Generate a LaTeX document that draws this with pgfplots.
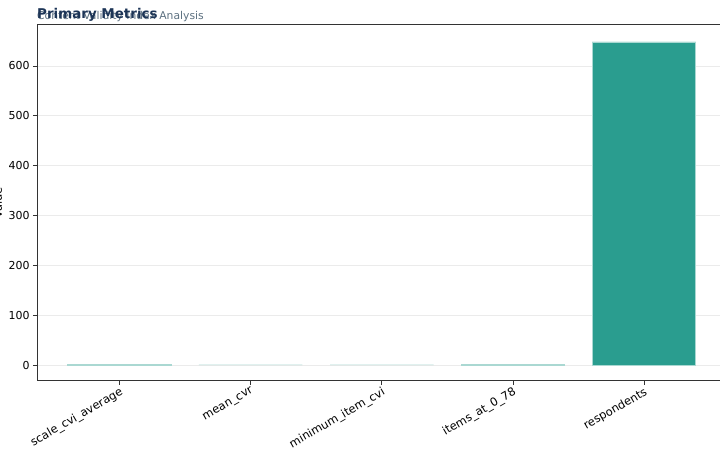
\documentclass[border=0pt]{standalone}
\usepackage{pgfplots}
\pgfplotsset{compat=1.18}
\usepackage{fontspec}
\setmainfont{DejaVu Sans}
\definecolor{barteal}{HTML}{2A9D8F}
\definecolor{titlenavy}{HTML}{1D3557}
\definecolor{subgray}{HTML}{5C7080}
\definecolor{spine}{HTML}{333333}
\begin{document}
\begin{tikzpicture}[x=1bp,y=1bp]
\useasboundingbox (0,0) rectangle (720,460);
\clip (0,0) rectangle (720,460);
\begin{axis}[
  at={(37bp,79bp)}, anchor=south west,
  scale only axis, width=683bp, height=356bp,
  xmin=-0.63, xmax=4.58,
  ymin=-32, ymax=682,
  xtick={0,1,2,3,4},
  xticklabels={scale\_cvi\_average,mean\_cvr,minimum\_item\_cvi,items\_at\_0\_78,respondents},
  x tick label style={rotate=30, anchor=north east, font=\fontsize{11.5}{13}\selectfont, inner sep=1pt},
  ytick={0,100,...,600},
  y tick label style={font=\fontsize{11}{13}\selectfont},
  /pgf/number format/assume math mode=true,
  xtick pos=bottom, ytick pos=left,
  tick align=outside,
  major tick length=4bp,
  tick style={spine, line width=0.7bp},
  axis line style={spine, line width=1bp},
  ymajorgrids,
  grid style={color=black!8, line width=0.6bp},
  ylabel={Value},
  ylabel style={font=\fontsize{11.5}{13}\selectfont, at={(ticklabel cs:0.5)}, anchor=south, inner sep=3pt},
  ybar, bar width=0.79,
  bar shift=0pt,
]
\addplot[fill=barteal, draw=barteal!40!white, line width=0.7bp]
  coordinates {(0,0.9) (3,2) (4,648)};
\addplot[fill=barteal!40!white, draw=none]
  coordinates {(1,0.8) (2,0.78)};
\end{axis}
\node[anchor=base west, text=subgray, font=\fontsize{10.8}{12}\selectfont, inner sep=0pt] at (37,440) {Content Validity Index Analysis};
\node[anchor=base west, text=titlenavy, font=\bfseries\fontsize{13.5}{15}\selectfont, inner sep=0pt] at (37,441) {Primary Metrics};
\end{tikzpicture}
\end{document}
